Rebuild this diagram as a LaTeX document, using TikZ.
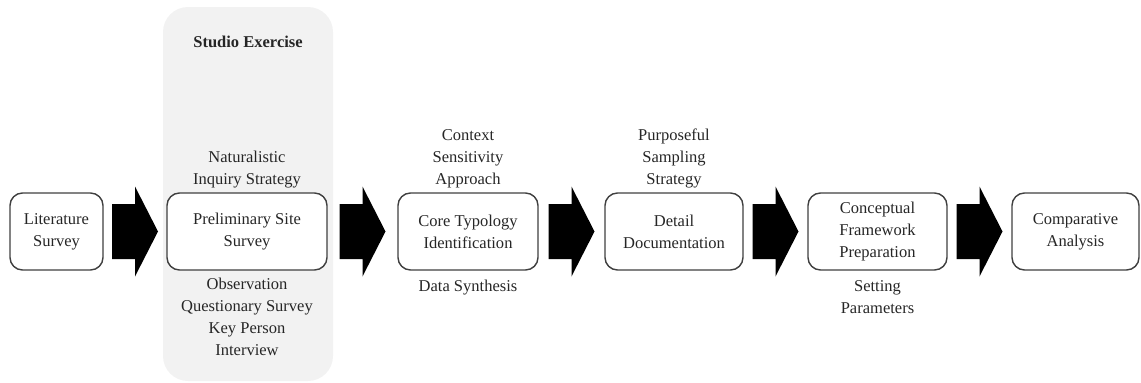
\documentclass[tikz,border=0pt]{standalone}
\usepackage{fontspec}
\setmainfont{Liberation Serif}
\usetikzlibrary{positioning,calc}
\definecolor{panelgray}{RGB}{242,242,242}
\definecolor{boxline}{RGB}{64,64,64}
\definecolor{textgray}{RGB}{38,38,38}
\newcommand{\flowfont}{\fontsize{9.4}{12.5}\selectfont}

\begin{document}
\begin{tikzpicture}[
    stage/.style={draw=boxline, line width=0.8pt, rounded corners=0.25cm, fill=white,
        align=center, minimum height=1.54cm, inner sep=2pt, text=textgray, font=\flowfont},
    note/.style={align=center, text=textgray, font=\flowfont, inner sep=1pt}
]
    \useasboundingbox (0,0) rectangle (22.82,7.64);

    % Studio exercise panel
    \fill[panelgray, rounded corners=0.5cm] (3.26,0.02) rectangle (6.66,7.50);
    \node[textgray, font=\flowfont\bfseries] (studio) at (4.96,6.80) {Studio Exercise};

    % Stages
    \node[stage, minimum width=1.86cm] (lit) at (1.13,3.01) {Literature\\Survey};
    \node[stage, minimum width=3.20cm] (pre) at (4.94,3.01) {Preliminary Site\\Survey};
    \node[stage, minimum width=2.80cm] (core) at (9.36,3.01) {Core Typology\\Identification};
    \node[stage, minimum width=2.76cm] (detail) at (13.48,3.01) {Detail\\Documentation};
    \node[stage, minimum width=2.78cm] (concept) at (17.55,3.01) {Conceptual\\Framework\\Preparation};
    \node[stage, minimum width=2.54cm] (comp) at (21.51,3.01) {Comparative\\Analysis};

    % Notes above and below
    \node[note, above=0.05cm of pre] (preabove) {Naturalistic\\Inquiry Strategy};
    \node[note, below=0.1cm of pre] (prebelow) {Observation\\Questionary Survey\\Key Person\\Interview};
    \node[note, above=0.05cm of core] (coreabove) {Context\\Sensitivity\\Approach};
    \node[note, below=0.14cm of core] (corebelow) {Data Synthesis};
    \node[note, above=0.05cm of detail] (detailabove) {Purposeful\\Sampling\\Strategy};
    \node[note, below=0.16cm of concept] (conceptbelow) {Setting\\Parameters};

    % Block arrows
    \foreach \a/\b in {lit/pre, pre/core, core/detail, detail/concept, concept/comp}
        \fill[black] ($(\a.east)!0.5!(\b.west)$) ++(-0.46,0.55) -- ++(0.46,0) -- ++(0,0.35)
            -- ++(0.46,-0.9) -- ++(-0.46,-0.9) -- ++(0,0.35) -- ++(-0.46,0) -- cycle;
\end{tikzpicture}
\end{document}
